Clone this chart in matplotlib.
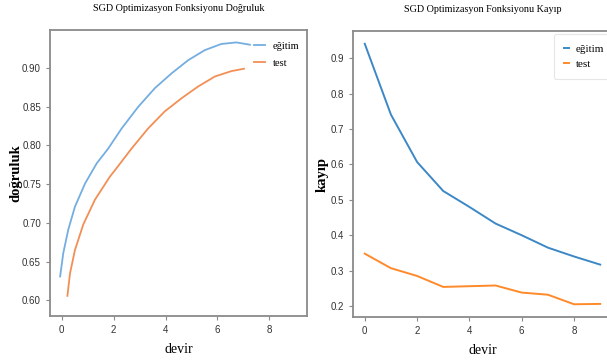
import matplotlib
matplotlib.use('Agg')
import matplotlib.pyplot as plt

# accuracy curves
acc_x_egitim = [-0.06, 0.06, 0.25, 0.51, 0.90, 1.35, 1.79, 2.31, 2.95, 3.59, 4.23,
                4.87, 5.51, 6.15, 6.73, 7.25]
acc_egitim = [0.631, 0.661, 0.691, 0.721, 0.751, 0.777, 0.796, 0.822, 0.850, 0.874, 0.893,
              0.910, 0.923, 0.931, 0.933, 0.930]
acc_x_test = [0.22, 0.32, 0.51, 0.83, 1.28, 1.86, 2.05, 2.69, 3.33, 3.97, 4.62,
              5.25, 5.90, 6.54, 7.02]
acc_test = [0.606, 0.635, 0.665, 0.698, 0.730, 0.760, 0.768, 0.796, 0.822, 0.844, 0.861,
            0.876, 0.889, 0.896, 0.899]

# loss per epoch
epochs = [0, 1, 2, 3, 4, 5, 6, 7, 8, 9]
loss_egitim = [0.941, 0.741, 0.607, 0.525, 0.480, 0.433, 0.400, 0.365, 0.340, 0.317]
loss_test = [0.348, 0.307, 0.285, 0.254, 0.256, 0.258, 0.238, 0.232, 0.205, 0.206]

serif = ['Liberation Serif', 'DejaVu Serif']
tickfont = ['Liberation Sans Narrow', 'Liberation Sans', 'DejaVu Sans']

fig = plt.figure(figsize=(6.07, 3.62), dpi=100)
ax1 = fig.add_axes([0.0824, 0.1271, 0.4234, 0.790])
ax2 = fig.add_axes([0.5815, 0.1243, 0.4267, 0.790])

# left: accuracy
ax1.plot(acc_x_egitim, acc_egitim, color='#74aee0', lw=1.3, label='eğitim')
ax1.plot(acc_x_test, acc_test, color='#f28f55', lw=1.3, label='test')
ax1.set_xlim(-0.45, 9.45)
ax1.set_ylim(0.580, 0.949)
ax1.set_xticks([0, 2, 4, 6, 8])
ax1.set_yticks([0.60, 0.65, 0.70, 0.75, 0.80, 0.85, 0.90])
ax1.set_yticklabels(['0.60', '0.65', '0.70', '0.75', '0.80', '0.85', '0.90'])
ax1.set_title('SGD Optimizasyon Fonksiyonu Doğruluk', family=serif, fontsize=7.3, pad=14)
ax1.set_xlabel('devir', family=serif, fontsize=10, labelpad=6)
ax1.set_ylabel('doğruluk', family=serif, fontsize=10.5, fontweight='bold')
ax1.yaxis.set_label_coords(-0.109, 0.5)
leg1 = ax1.legend(loc='upper right', bbox_to_anchor=(1.0, 0.986), frameon=False,
                  fontsize=7.5, handlelength=1.1, borderaxespad=0.3,
                  handletextpad=0.77, labelspacing=0.75)
for t in leg1.get_texts():
    t.set_family(serif)

# right: loss
ax2.plot(epochs, loss_egitim, color='#3c88c6', lw=1.4, label='eğitim')
ax2.plot(epochs, loss_test, color='#ff8a2a', lw=1.4, label='test')
ax2.set_xlim(-0.45, 9.45)
ax2.set_ylim(0.169, 0.977)
ax2.set_xticks([0, 2, 4, 6, 8])
ax2.set_yticks([0.2, 0.3, 0.4, 0.5, 0.6, 0.7, 0.8, 0.9])
ax2.set_title('SGD Optimizasyon Fonksiyonu Kayıp', family=serif, fontsize=7.3, pad=14)
ax2.set_xlabel('devir', family=serif, fontsize=10, labelpad=6)
ax2.set_ylabel('kayıp', family=serif, fontsize=10.5, fontweight='bold')
ax2.yaxis.set_label_coords(-0.092, 0.5)
leg2 = ax2.legend(loc='upper right', bbox_to_anchor=(1.022, 1.0), frameon=True,
                  fontsize=8, handlelength=0.5, borderaxespad=0.3, borderpad=0.9,
                  handletextpad=0.6, labelspacing=0.45)
leg2.get_frame().set_edgecolor('#e0e0e0')
leg2.get_frame().set_linewidth(0.8)
for t in leg2.get_texts():
    t.set_family(serif)

for ax in (ax1, ax2):
    for s in ax.spines.values():
        s.set_color('#8a8a8a')
        s.set_linewidth(1.3)
    ax.tick_params(colors='#8a8a8a', labelcolor='#333333', length=3, width=0.8, labelsize=7)
    for lab in ax.get_xticklabels() + ax.get_yticklabels():
        lab.set_family(tickfont)

fig.savefig('out.png', dpi=100)
